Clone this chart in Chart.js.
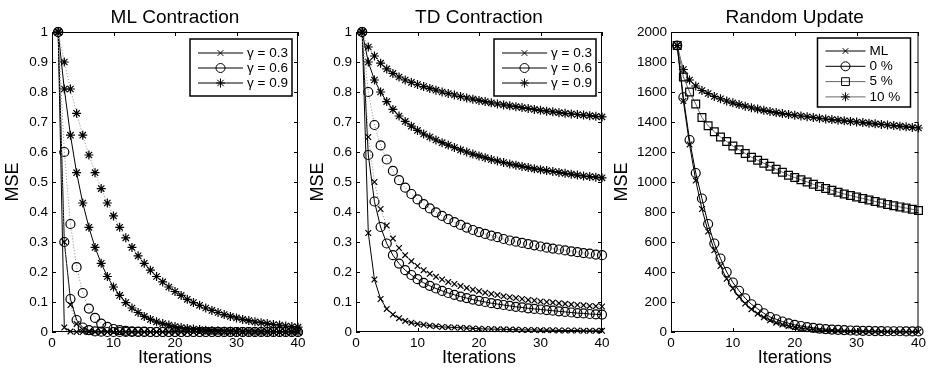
<!DOCTYPE html>
<html>
<head>
<meta charset="utf-8">
<script src="https://cdn.jsdelivr.net/npm/chart.js@4.4.1/dist/chart.umd.min.js"></script>
<style>
    html, body { margin: 0; padding: 0; background: #fff; }
    body { width: 929px; height: 374px; position: relative; overflow: hidden; }
    canvas { position: absolute; top: 0; }
</style>
</head>
<body>
<canvas id="ml-chart" width="310" height="374" style="left:0px"></canvas>
<canvas id="td-chart" width="308" height="374" style="left:305px"></canvas>
<canvas id="random-chart" width="320" height="374" style="left:609px"></canvas>
<script>
// Chart data

const iterations = [
    1, 2, 3, 4, 5, 6, 7, 8, 9, 10,
    11, 12, 13, 14, 15, 16, 17, 18, 19, 20,
    21, 22, 23, 24, 25, 26, 27, 28, 29, 30,
    31, 32, 33, 34, 35, 36, 37, 38, 39, 40
];
const xTickValues = [0, 10, 20, 30, 40];
const contractionTickValues = [0, 0.1, 0.2, 0.3, 0.4, 0.5, 0.6, 0.7, 0.8, 0.9, 1];
const randomTickValues = [0, 200, 400, 600, 800, 1000, 1200, 1400, 1600, 1800, 2000];

const gammaLabels = ['\u03b3 = 0.3', '\u03b3 = 0.6', '\u03b3 = 0.9'];
const randomLabels = ['ML', '0 %', '5 %', '10 %'];

// ML Contraction
const mlGamma03Solid = [
    1, 0.015, 0.002, 0, 0, 0, 0, 0, 0, 0,
    0, 0, 0, 0, 0, 0, 0, 0, 0, 0,
    0, 0, 0, 0, 0, 0, 0, 0, 0, 0,
    0, 0, 0, 0, 0, 0, 0, 0, 0, 0
];
const mlGamma03Dotted = [
    1, 0.3, 0.09, 0.027, 0.008, 0.002, 0.001, 0, 0, 0,
    0, 0, 0, 0, 0, 0, 0, 0, 0, 0,
    0, 0, 0, 0, 0, 0, 0, 0, 0, 0,
    0, 0, 0, 0, 0, 0, 0, 0, 0, 0
];
const mlGamma06Solid = [
    1, 0.3, 0.11, 0.04, 0.015, 0.006, 0.002, 0.001, 0, 0,
    0, 0, 0, 0, 0, 0, 0, 0, 0, 0,
    0, 0, 0, 0, 0, 0, 0, 0, 0, 0,
    0, 0, 0, 0, 0, 0, 0, 0, 0, 0
];
const mlGamma06Dotted = [
    1, 0.6, 0.36, 0.216, 0.13, 0.078, 0.047, 0.028, 0.017, 0.01,
    0.006, 0.004, 0.002, 0.001, 0.001, 0, 0, 0, 0, 0,
    0, 0, 0, 0, 0, 0, 0, 0, 0, 0,
    0, 0, 0, 0, 0, 0, 0, 0, 0, 0
];
const mlGamma09Solid = [
    1, 0.81, 0.656, 0.531, 0.43, 0.349, 0.282, 0.229, 0.185, 0.15,
    0.122, 0.098, 0.08, 0.065, 0.052, 0.042, 0.034, 0.028, 0.023, 0.018,
    0.015, 0.012, 0.01, 0.008, 0.006, 0.005, 0.004, 0.003, 0.003, 0.002,
    0.002, 0.002, 0.001, 0.001, 0.001, 0.001, 0, 0, 0, 0
];
const mlGamma09Dotted = [
    1, 0.9, 0.81, 0.729, 0.656, 0.59, 0.531, 0.478, 0.43, 0.387,
    0.349, 0.314, 0.282, 0.254, 0.229, 0.206, 0.185, 0.167, 0.15, 0.135,
    0.122, 0.109, 0.098, 0.089, 0.08, 0.072, 0.065, 0.058, 0.052, 0.047,
    0.042, 0.038, 0.034, 0.031, 0.028, 0.025, 0.023, 0.02, 0.018, 0.016
];

// TD Contraction
const tdGamma03Solid = [
    1, 0.33, 0.175, 0.11, 0.077, 0.058, 0.046, 0.037, 0.031, 0.027,
    0.024, 0.021, 0.019, 0.017, 0.016, 0.015, 0.014, 0.013, 0.012, 0.011,
    0.01, 0.01, 0.009, 0.009, 0.008, 0.008, 0.007, 0.007, 0.007, 0.006,
    0.006, 0.006, 0.005, 0.005, 0.005, 0.005, 0.004, 0.004, 0.004, 0.004
];
const tdGamma03Dotted = [
    1, 0.65, 0.5, 0.41, 0.355, 0.312, 0.28, 0.256, 0.236, 0.22,
    0.206, 0.194, 0.184, 0.175, 0.167, 0.16, 0.153, 0.147, 0.141, 0.136,
    0.131, 0.127, 0.123, 0.119, 0.116, 0.113, 0.11, 0.107, 0.105, 0.102,
    0.1, 0.098, 0.096, 0.094, 0.092, 0.09, 0.089, 0.087, 0.086, 0.085
];
const tdGamma06Solid = [
    1, 0.59, 0.435, 0.35, 0.295, 0.256, 0.228, 0.206, 0.19, 0.176,
    0.164, 0.154, 0.145, 0.137, 0.13, 0.124, 0.118, 0.113, 0.108, 0.104,
    0.1, 0.096, 0.093, 0.09, 0.087, 0.084, 0.082, 0.079, 0.077, 0.075,
    0.073, 0.071, 0.069, 0.067, 0.065, 0.063, 0.062, 0.06, 0.059, 0.058
];
const tdGamma06Dotted = [
    1, 0.8, 0.69, 0.622, 0.575, 0.537, 0.506, 0.481, 0.46, 0.442,
    0.426, 0.412, 0.399, 0.387, 0.376, 0.366, 0.357, 0.348, 0.34, 0.333,
    0.327, 0.321, 0.316, 0.31, 0.305, 0.301, 0.297, 0.293, 0.289, 0.285,
    0.281, 0.278, 0.275, 0.272, 0.269, 0.266, 0.263, 0.261, 0.258, 0.256
];
const tdGamma09Solid = [
    1, 0.9, 0.84, 0.8, 0.768, 0.742, 0.72, 0.702, 0.686, 0.672,
    0.66, 0.65, 0.64, 0.631, 0.623, 0.615, 0.607, 0.6, 0.593, 0.587,
    0.581, 0.575, 0.57, 0.565, 0.56, 0.556, 0.552, 0.548, 0.544, 0.541,
    0.538, 0.535, 0.532, 0.529, 0.526, 0.523, 0.52, 0.518, 0.516, 0.514
];
const tdGamma09Dotted = [
    1, 0.95, 0.92, 0.896, 0.877, 0.862, 0.85, 0.84, 0.832, 0.825,
    0.818, 0.812, 0.806, 0.8, 0.795, 0.79, 0.785, 0.78, 0.776, 0.772,
    0.768, 0.764, 0.76, 0.757, 0.754, 0.751, 0.748, 0.745, 0.742, 0.739,
    0.736, 0.734, 0.731, 0.729, 0.727, 0.725, 0.723, 0.721, 0.719, 0.717
];

// Random Update
const randomMl = [
    1910, 1540, 1250, 1010, 820, 670, 545, 440, 355, 290,
    235, 190, 152, 122, 98, 78, 62, 50, 40, 32,
    25, 20, 16, 12, 10, 8, 6, 5, 4, 3,
    2, 2, 1, 1, 1, 1, 0, 0, 0, 0
];
const randomZero = [
    1910, 1565, 1280, 1060, 890, 720, 590, 490, 400, 330,
    275, 225, 185, 155, 125, 100, 85, 70, 58, 48,
    40, 33, 28, 23, 19, 16, 14, 12, 10, 9,
    8, 7, 6, 6, 5, 5, 5, 4, 4, 4
];
const randomFive = [
    1910, 1700, 1600, 1520, 1430, 1375, 1335, 1300, 1270, 1240,
    1215, 1190, 1165, 1145, 1125, 1105, 1085, 1065, 1045, 1030,
    1015, 1000, 985, 970, 957, 945, 932, 920, 910, 900,
    890, 880, 870, 860, 850, 842, 834, 826, 818, 810
];
const randomTen = [
    1910, 1750, 1680, 1640, 1610, 1590, 1570, 1555, 1540, 1528,
    1516, 1505, 1495, 1486, 1478, 1470, 1463, 1456, 1450, 1445,
    1440, 1435, 1430, 1425, 1420, 1416, 1412, 1408, 1404, 1400,
    1396, 1392, 1388, 1384, 1380, 1376, 1372, 1368, 1364, 1360
];

const FONT = '"Liberation Sans", Arial, Helvetica, sans-serif';

// Marker / line styles
const markerSize = { crossRot: 4, circle: 4.5, star: 4.5, rect: 5.5 };

function series(values, marker, opts = {}) {
    return {
        label: opts.label || '',
        inLegend: !!opts.label,
        data: iterations.map((it, i) => ({ x: it, y: values[i] })),
        borderColor: opts.lineColor || '#000',
        borderWidth: 1,
        borderDash: opts.dotted ? [1, 2] : [],
        pointStyle: marker,
        pointRadius: markerSize[marker],
        pointBorderColor: '#000',
        pointBackgroundColor: 'rgba(0,0,0,0)',
        pointBorderWidth: 1.2,
        tension: 0,
        clip: false
    };
}

// Box, inward ticks, title and legend in MATLAB style
const matlabFrame = {
    id: 'matlabFrame',
    beforeDatasetsDraw(chart) {
        const { ctx, chartArea: a } = chart;
        ctx.save();
        ctx.fillStyle = '#fff';
        ctx.fillRect(a.left, a.top, a.right - a.left, a.bottom - a.top);
        ctx.restore();
    },
    afterDatasetsDraw(chart, args, opts) {
        const { ctx, chartArea: a, scales: { x, y } } = chart;
        ctx.save();
        ctx.strokeStyle = '#000';
        ctx.lineWidth = 1;
        ctx.strokeRect(a.left + 0.5, a.top + 0.5, a.right - a.left - 1, a.bottom - a.top - 1);

        // inward ticks on all four sides
        const len = 4;
        ctx.beginPath();
        x.ticks.forEach(t => {
            const px = Math.round(x.getPixelForValue(t.value)) + 0.5;
            ctx.moveTo(px, a.bottom); ctx.lineTo(px, a.bottom - len);
            ctx.moveTo(px, a.top); ctx.lineTo(px, a.top + len);
        });
        y.ticks.forEach(t => {
            const py = Math.round(y.getPixelForValue(t.value)) + 0.5;
            ctx.moveTo(a.left, py); ctx.lineTo(a.left + len, py);
            ctx.moveTo(a.right, py); ctx.lineTo(a.right - len, py);
        });
        ctx.stroke();

        // title
        ctx.fillStyle = '#000';
        ctx.font = '19px ' + FONT;
        ctx.textAlign = 'center';
        ctx.textBaseline = 'alphabetic';
        ctx.fillText(opts.title, (a.left + a.right) / 2, 23);

        // legend
        const lg = opts.legend;
        const items = chart.data.datasets.filter(d => d.inLegend);
        const left = a.right - lg.right - lg.width;
        ctx.fillStyle = '#fff';
        ctx.fillRect(left, lg.top, lg.width, lg.height);
        ctx.lineWidth = 1.5;
        ctx.strokeStyle = '#000';
        ctx.strokeRect(left, lg.top, lg.width, lg.height);

        ctx.font = '13.5px ' + FONT;
        ctx.textAlign = 'left';
        ctx.textBaseline = 'middle';
        items.forEach((d, i) => {
            const ry = lg.top + lg.firstRow + i * lg.rowGap;
            const x0 = left + 8, x1 = left + 8 + lg.lineLen;
            ctx.strokeStyle = d.borderColor;
            ctx.lineWidth = 1;
            ctx.setLineDash([]);
            ctx.beginPath();
            ctx.moveTo(x0, ry); ctx.lineTo(x1, ry);
            ctx.stroke();
            ctx.strokeStyle = '#000';
            ctx.fillStyle = 'rgba(0,0,0,0)';
            Chart.helpers.drawPoint(ctx, {
                pointStyle: d.pointStyle, radius: d.pointRadius, borderWidth: 1, rotation: 0
            }, (x0 + x1) / 2, ry);
            ctx.fillStyle = '#000';
            ctx.fillText(d.label, x1 + 4, ry);
        });
        ctx.restore();
    }
};

function makeChart(canvasId, datasets, cfg) {
    return new Chart(document.getElementById(canvasId), {
        type: 'line',
        data: { datasets },
        plugins: [matlabFrame],
        options: {
            responsive: false,
            animation: false,
            events: [],
            layout: { padding: { top: 32, right: cfg.padRight, left: 0, bottom: 0 } },
            plugins: {
                legend: { display: false },
                title: { display: false },
                tooltip: { enabled: false },
                matlabFrame: { title: cfg.title, legend: cfg.legend }
            },
            scales: {
                x: {
                    type: 'linear',
                    min: 0,
                    max: 40,
                    afterBuildTicks: axis => { axis.ticks = xTickValues.map(v => ({ value: v })); },
                    afterFit: axis => { axis.height = 42; },
                    grid: { display: false, drawTicks: false },
                    border: { display: false },
                    ticks: {
                        color: '#000', padding: 3, maxRotation: 0,
                        font: { family: FONT, size: 13.5 },
                        callback: v => String(v)
                    },
                    title: {
                        display: true, text: 'Iterations', color: '#000',
                        font: { family: FONT, size: 18, lineHeight: 1.2 },
                        padding: { top: 0, bottom: 5 }
                    }
                },
                y: {
                    type: 'linear',
                    min: cfg.yTicks[0],
                    max: cfg.yTicks[cfg.yTicks.length - 1],
                    afterBuildTicks: axis => { axis.ticks = cfg.yTicks.map(v => ({ value: v })); },
                    afterFit: axis => { axis.width = cfg.yWidth; },
                    grid: { display: false, drawTicks: false },
                    border: { display: false },
                    ticks: {
                        color: '#000', padding: 4,
                        font: { family: FONT, size: 13.5 },
                        callback: v => String(v)
                    },
                    title: {
                        display: true, text: 'MSE', color: '#000',
                        font: { family: FONT, size: 18, lineHeight: 1.2 },
                        padding: { top: 2, bottom: 0 }
                    }
                }
            }
        }
    });
}

const gammaLegend = { right: 6, top: 39, width: 102, height: 57, firstRow: 14, rowGap: 15, lineLen: 45 };

makeChart('ml-chart', [
    series(mlGamma03Dotted, 'crossRot', { dotted: true, lineColor: '#888' }),
    series(mlGamma06Dotted, 'circle', { dotted: true, lineColor: '#888' }),
    series(mlGamma09Dotted, 'star', { dotted: true, lineColor: '#888' }),
    series(mlGamma03Solid, 'crossRot', { label: gammaLabels[0] }),
    series(mlGamma06Solid, 'circle', { label: gammaLabels[1] }),
    series(mlGamma09Solid, 'star', { label: gammaLabels[2] })
], { title: 'ML Contraction', yTicks: contractionTickValues, yWidth: 52, padRight: 12, legend: gammaLegend });

makeChart('td-chart', [
    series(tdGamma03Dotted, 'crossRot', { dotted: true, lineColor: '#888' }),
    series(tdGamma06Dotted, 'circle', { dotted: true, lineColor: '#888' }),
    series(tdGamma09Dotted, 'star', { dotted: true, lineColor: '#888' }),
    series(tdGamma03Solid, 'crossRot', { label: gammaLabels[0] }),
    series(tdGamma06Solid, 'circle', { label: gammaLabels[1] }),
    series(tdGamma09Solid, 'star', { label: gammaLabels[2] })
], { title: 'TD Contraction', yTicks: contractionTickValues, yWidth: 51, padRight: 11, legend: gammaLegend });

makeChart('random-chart', [
    series(randomMl, 'crossRot', { label: randomLabels[0] }),
    series(randomZero, 'circle', { label: randomLabels[1] }),
    series(randomFive, 'rect', { label: randomLabels[2], lineColor: '#666' }),
    series(randomTen, 'star', { label: randomLabels[3], lineColor: '#666' })
], {
    title: 'Random Update', yTicks: randomTickValues, yWidth: 62, padRight: 10,
    legend: { right: 8, top: 38, width: 93, height: 69, firstRow: 13, rowGap: 15.3, lineLen: 40 }
});
</script>
</body>
</html>
